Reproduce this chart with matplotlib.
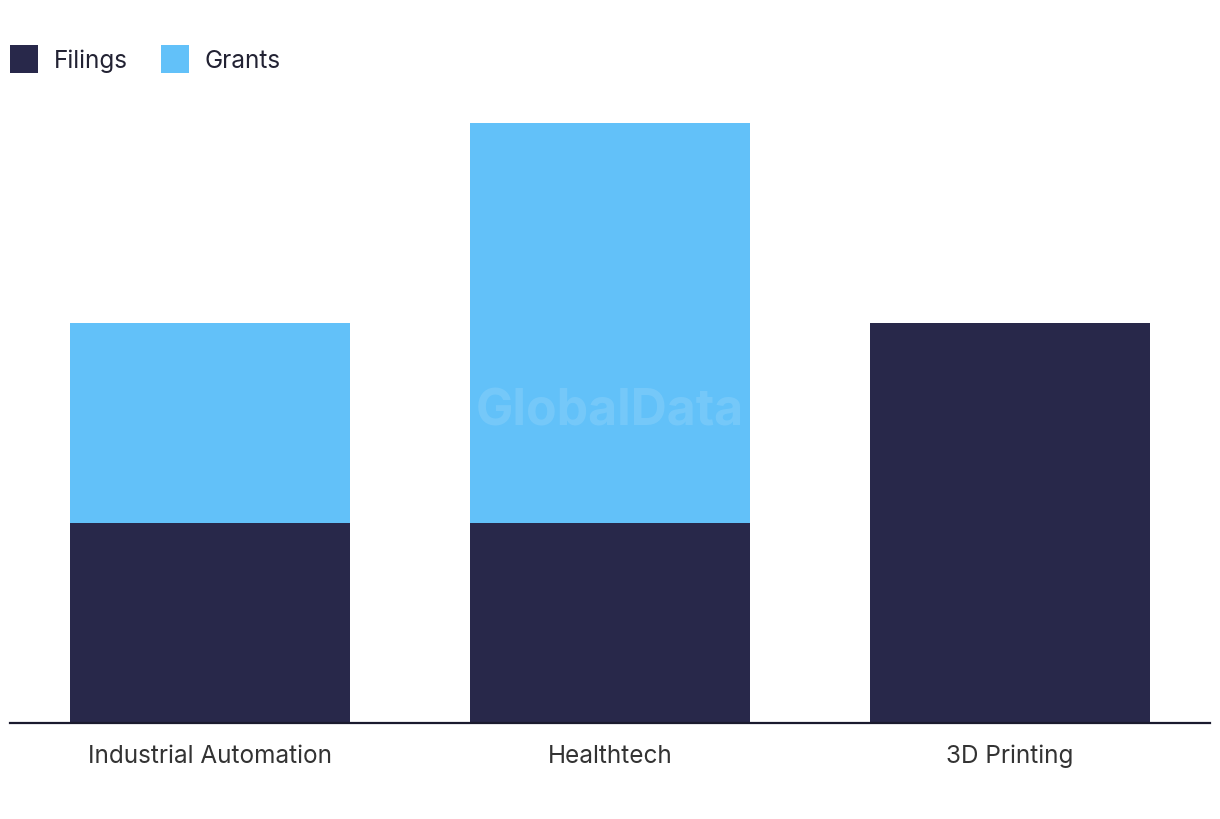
import matplotlib
matplotlib.use("Agg")
import matplotlib.pyplot as plt
import numpy as np

categories = ["Industrial Automation", "Healthtech", "3D Printing"]
filings = [1, 1, 2]
grants = [1, 2, 0]

FILINGS_COLOR = "#28284a"
GRANTS_COLOR = "#62c1f9"

plt.rcParams["font.family"] = ["Inter", "DejaVu Sans"]

fig = plt.figure(figsize=(12.2, 8.2), dpi=100)
ax = fig.add_axes([10 / 1220, 96 / 820, 1200 / 1220, 600 / 820])

x = np.arange(len(categories))
b1 = ax.bar(x, filings, width=0.7, color=FILINGS_COLOR, label="Filings")
b2 = ax.bar(x, grants, width=0.7, bottom=filings, color=GRANTS_COLOR, label="Grants")

ax.set_xlim(-0.5, len(categories) - 0.5)
ax.set_ylim(0, 3)
ax.set_xticks(x)
ax.set_xticklabels(categories, fontsize=17.5, color="#333333")
ax.tick_params(axis="x", length=0, pad=15)
ax.set_yticks([])
for side in ["top", "right", "left"]:
    ax.spines[side].set_visible(False)
ax.spines["bottom"].set_color("#1a1a2e")
ax.spines["bottom"].set_linewidth(1.6)

# watermark
ax.text(0.5, 0.52, "GlobalData", transform=ax.transAxes, ha="center", va="center",
        fontsize=36, fontweight="bold", color="white", alpha=0.12)

fig.legend(handles=[b1, b2], loc="upper left", bbox_to_anchor=(10 / 1220, 1 - 46 / 820),
           ncol=2, frameon=False, fontsize=17.5, handlelength=1.15, handleheight=1.39,
           handletextpad=0.65, columnspacing=1.35, borderpad=0, borderaxespad=0,
           labelcolor="#222233")

fig.savefig("out.png", dpi=100)
